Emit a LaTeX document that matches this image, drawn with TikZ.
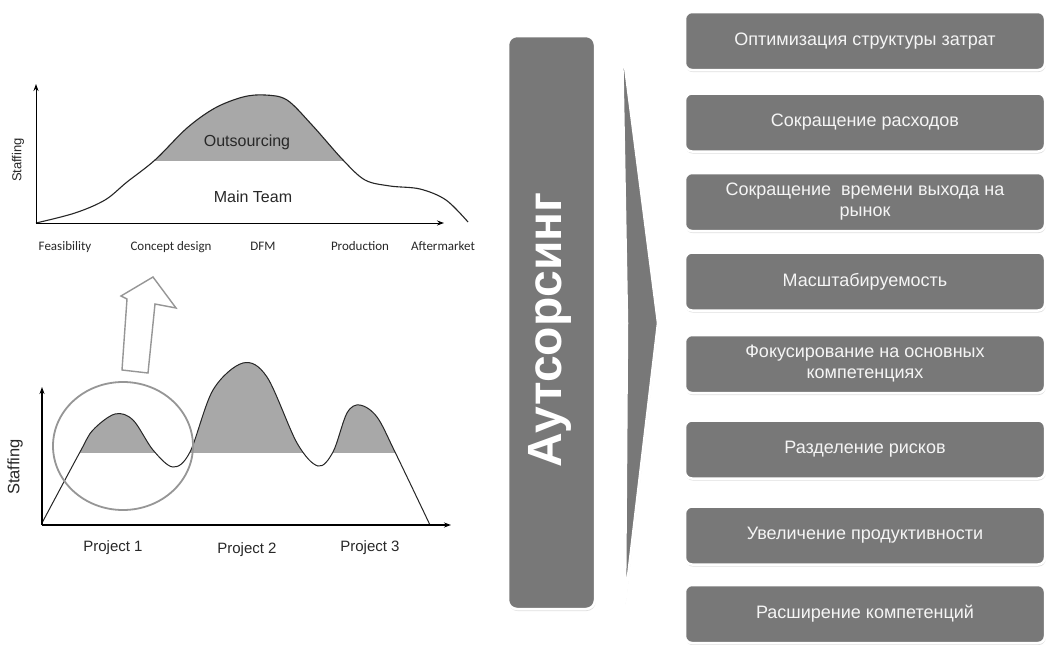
\documentclass[tikz,border=0pt]{standalone}
\usepackage{fontspec}
\setmainfont{Liberation Sans}
\newfontfamily\carl{Carlito}
\usetikzlibrary{shadows,arrows.meta,shapes.geometric}
\definecolor{boxgray}{RGB}{120,120,120}
\definecolor{shadegray}{RGB}{168,168,168}
\definecolor{linegray}{RGB}{150,150,150}
\definecolor{txt}{RGB}{40,40,40}
\begin{document}
\begin{tikzpicture}[x=1pt,y=-1pt,
  benefit/.style={draw=white, line width=2.5pt, fill=boxgray, rounded corners=7pt,
    minimum width=360pt, minimum height=58pt, inner sep=0pt, text=white!96!black,
    align=center, font=\fontsize{18}{21}\selectfont,
    drop shadow={shadow xshift=0.6pt, shadow yshift=-2pt, opacity=0.25}},
  mainbox/.style={draw=white, line width=2.5pt, fill=boxgray, rounded corners=9pt,
    minimum width=87pt, minimum height=573pt, inner sep=0pt,
    drop shadow={shadow xshift=0.6pt, shadow yshift=-2pt, opacity=0.25}},
  axis/.style={line width=1.3pt, -{Stealth[length=7pt,width=5pt]}},
  curve/.style={line width=1.1pt, black!85},
  lbl/.style={text=txt, inner sep=0pt},
  xl/.style={text=txt, inner sep=0pt, anchor=base, font=\carl\fontsize{13}{15}\selectfont}
]
\useasboundingbox (0,0) rectangle (1047,645);
\fill[white] (0,0) rectangle (1047,645);

% ---------- top chart ----------
\begin{scope}
  \clip (0,0) rectangle (1047,160);
  \fill[shadegray] plot[smooth, tension=0.55] coordinates {(36,223) (75,213) (105,200) (127,182) (155,160) (187,128) (215,108) (243,97) (265,95) (287,100) (312,125) (343,160) (365,180) (390,186) (420,189) (446,200) (468,222)} -- cycle;
\end{scope}
\draw[curve] plot[smooth, tension=0.55] coordinates {(36,223) (75,213) (105,200) (127,182) (155,160) (187,128) (215,108) (243,97) (265,95) (287,100) (312,125) (343,160) (365,180) (390,186) (420,189) (446,200) (468,222)};
\coordinate (o1) at (36,223);
\coordinate (y1) at (36,84);
\coordinate (x1) at (444,223);
\draw[axis, line width=1pt] (o1) -- (y1);
\draw[axis, line width=1pt] (o1) -- (x1);
\node[lbl, font=\fontsize{16}{19}\selectfont] (outs) at (247,142) {Outsourcing};
\node[lbl, font=\fontsize{16}{19}\selectfont] (main) at (253,197) {Main Team};
\node[lbl, rotate=90, font=\fontsize{13}{15}\selectfont] (st1) at (18,160) {Staffing};
\node[xl] (f1) at (65,250) {Feasibility};
\node[xl] (f2) at (171,250) {Concept design};
\node[xl] (f3) at (263,250) {DFM};
\node[xl] (f4) at (360,250) {Production};
\node[xl] (f5) at (443,250) {Aftermarket};

% ---------- hollow arrow ----------
\draw[linegray, line width=1.4pt, fill=white, line join=miter]
  (122,370) -- (127,299) -- (121,296) -- (153,277) -- (176,308) -- (155,304) -- (148,373) -- cycle;

% ---------- bottom chart ----------
\begin{scope}
  \clip (0,0) rectangle (1047,452);
  \fill[shadegray] plot[smooth, tension=0.55] coordinates {(42,523) (80,452) (93,430) (115,414) (133,420) (153,450) (173,467) (190,452) (213,390) (243,363) (267,377) (297,443) (318,466) (333,452) (347,413) (360,405) (377,417) (395,452) (430,525)} -- cycle;
\end{scope}
\draw[curve, line width=1pt] plot[smooth, tension=0.55] coordinates {(42,523) (80,452) (93,430) (115,414) (133,420) (153,450) (173,467) (190,452) (213,390) (243,363) (267,377) (297,443) (318,466) (333,452) (347,413) (360,405) (377,417) (395,452) (430,525)};
\node[draw=linegray, line width=1.8pt, ellipse, minimum width=140pt, minimum height=128pt, inner sep=0pt] (ell) at (123,446) {};
\coordinate (o2) at (42,525);
\coordinate (y2) at (42,387);
\coordinate (x2) at (451,525);
\draw[axis, line width=1.8pt] (o2) -- (y2);
\draw[axis, line width=1.8pt] (o2) -- (x2);
\node[lbl, rotate=90, font=\fontsize{16.5}{19}\selectfont] (st2) at (15,467) {Staffing};
\node[lbl, anchor=base, font=\fontsize{15}{18}\selectfont] (p1) at (113,551) {Project 1};
\node[lbl, anchor=base, font=\fontsize{15}{18}\selectfont] (p2) at (247,553) {Project 2};
\node[lbl, anchor=base, font=\fontsize{15}{18}\selectfont] (p3) at (370,551) {Project 3};

% ---------- main vertical box ----------
\node[mainbox] (ms) at (551.5,322.5) {};
\node[rotate=90, text=white, inner sep=0pt, font=\bfseries\fontsize{48}{54}\selectfont] (mst) at (550,330) {Аутсорсинг};

% ---------- wedge ----------
\draw[draw=white, line width=2.5pt, fill=boxgray, line join=round,
  drop shadow={shadow xshift=0.6pt, shadow yshift=-2pt, opacity=0.25}]
  (622,43) -- (658,323) -- (625,602) -- (627,323) -- cycle;

% ---------- benefit boxes ----------
\node[benefit] (b1) at (865,41) {Оптимизация структуры затрат};
\node[benefit] (b2) at (865,122.5) {Сокращение расходов};
\node[benefit] (b3) at (865,202) {Сокращение\ \ времени выхода на\\рынок};
\node[benefit] (b4) at (865,281.5) {Масштабируемость};
\node[benefit] (b5) at (865,364) {Фокусирование на основных\\компетенциях};
\node[benefit] (b6) at (865,449.5) {Разделение рисков};
\node[benefit] (b7) at (865,535.5) {Увеличение продуктивности};
\node[benefit] (b8) at (865,614) {Расширение компетенций};
\end{tikzpicture}
\end{document}
